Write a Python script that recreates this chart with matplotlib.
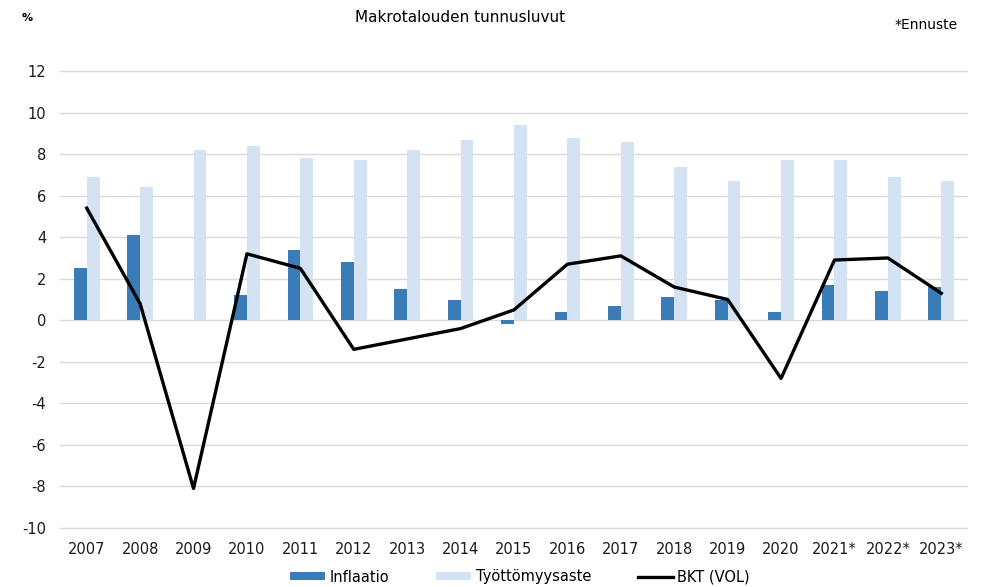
import numpy as np
import matplotlib.pyplot as plt

plt.rcParams['axes.unicode_minus'] = False

years = ['2007', '2008', '2009', '2010', '2011', '2012', '2013', '2014', '2015',
         '2016', '2017', '2018', '2019', '2020', '2021*', '2022*', '2023*']
inflaatio = [2.5, 4.1, 0.0, 1.2, 3.4, 2.8, 1.5, 1.0, -0.2,
             0.4, 0.7, 1.1, 1.0, 0.4, 1.7, 1.4, 1.6]
tyottomyys = [6.9, 6.4, 8.2, 8.4, 7.8, 7.7, 8.2, 8.7, 9.4,
              8.8, 8.6, 7.4, 6.7, 7.7, 7.7, 6.9, 6.7]
bkt = [5.4, 0.8, -8.1, 3.2, 2.5, -1.4, -0.9, -0.4, 0.5,
       2.7, 3.1, 1.6, 1.0, -2.8, 2.9, 3.0, 1.3]

x = np.arange(len(years))
w = 0.24

fig = plt.figure(figsize=(9.82, 5.87), dpi=100)
# axes box from y=12 (71px) to y=-10 (528px), padded a bit so edge gridlines show
ax = fig.add_axes([60/982, 57/587, 908/982, 461/587])

b1 = ax.bar(x - w/2, inflaatio, w, color='#3a7cb8', label='Inflaatio', zorder=2)
b2 = ax.bar(x + w/2, tyottomyys, w, color='#d4e3f3', label='Työttömyysaste', zorder=2)
ln, = ax.plot(x, bkt, color='black', lw=2.4, label='BKT (VOL)', zorder=3)

ax.set_xlim(-0.5, len(years) - 0.5)
ax.set_ylim(-10.1, 12.1)
ax.set_yticks(range(-10, 13, 2))
ax.set_xticks(x)
ax.set_xticklabels(years)
ax.grid(axis='y', color='#d9d9d9', lw=1, zorder=0)
ax.set_axisbelow(True)
for s in ax.spines.values():
    s.set_visible(False)
ax.tick_params(length=0, labelsize=10.5, colors='#1a1a1a')
ax.tick_params(axis='y', pad=10)
ax.tick_params(axis='x', pad=9)

fig.text(460/982, 1 - 18/587, 'Makrotalouden tunnusluvut', ha='center', va='center', fontsize=11)
fig.text(27/982, 1 - 18/587, '%', ha='center', va='center', fontsize=8, fontweight='bold')
fig.text(958/982, 1 - 25/587, '*Ennuste', ha='right', va='center', fontsize=10)

fig.legend([b1, b2, ln], ['Inflaatio', 'Työttömyysaste', 'BKT (VOL)'],
           loc='center', bbox_to_anchor=(520/982, 1 - 577/587), ncol=3, frameon=False,
           fontsize=10.5, handlelength=2.4, handleheight=0.5, columnspacing=3.2,
           handletextpad=0.3, borderpad=0, borderaxespad=0)

fig.savefig('out.png', dpi=100)
